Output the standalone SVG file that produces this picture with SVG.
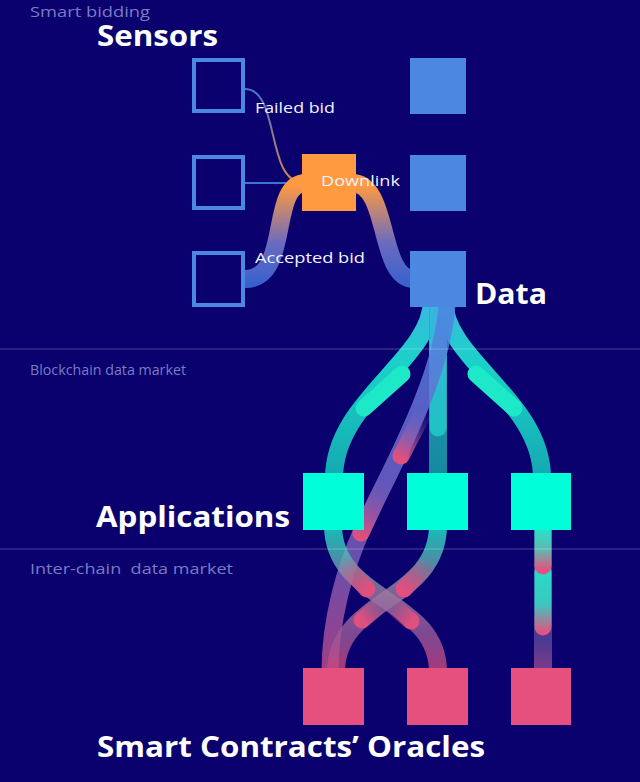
<svg xmlns="http://www.w3.org/2000/svg" width="640" height="782" viewBox="0 0 640 782">
<defs>
<style>
.sec{font-family:"Open Sans","Liberation Sans",sans-serif;font-size:15px;fill:#7b7bc4}
.big{font-family:"Open Sans","Liberation Sans",sans-serif;font-size:28px;font-weight:700;fill:#ffffff}
.lbl{font-family:"Open Sans","Liberation Sans",sans-serif;font-size:15px;fill:#f2f2ff}
.sensor{fill:none;stroke:#4a88e2;stroke-width:4}
.data{fill:#4a88e2}
.app{fill:#00ffd8}
.orc{fill:#e6507f}
.tube{fill:none;stroke-width:18;stroke-linecap:butt}
.pk{fill:none;stroke-width:17;stroke-linecap:round}
.divider{stroke:#ffffff;stroke-opacity:0.18;stroke-width:1.5}
</style>
<linearGradient id="gFail" gradientUnits="userSpaceOnUse" x1="245" y1="89" x2="302" y2="182"><stop offset="0" stop-color="#4a88e2"/><stop offset="1" stop-color="#ff9a40"/></linearGradient>
<linearGradient id="gAcc" gradientUnits="userSpaceOnUse" x1="0" y1="283" x2="0" y2="185"><stop offset="0" stop-color="#3a62cc"/><stop offset="0.4" stop-color="#6a6ac0"/><stop offset="1" stop-color="#ff9a40"/></linearGradient>
<linearGradient id="gDown" gradientUnits="userSpaceOnUse" x1="0" y1="185" x2="0" y2="283"><stop offset="0" stop-color="#ff9a40"/><stop offset="0.6" stop-color="#6a6ac0"/><stop offset="1" stop-color="#3a62cc"/></linearGradient>
<linearGradient id="gSide" gradientUnits="userSpaceOnUse" x1="0" y1="305" x2="0" y2="473"><stop offset="0" stop-color="#3ab8e0"/><stop offset="0.35" stop-color="#1ad2c8"/><stop offset="1" stop-color="#14aab2"/></linearGradient>
<linearGradient id="gMid" gradientUnits="userSpaceOnUse" x1="0" y1="305" x2="0" y2="473"><stop offset="0" stop-color="#2a9ec0"/><stop offset="1" stop-color="#15899e"/></linearGradient>
<linearGradient id="gMidPk" gradientUnits="userSpaceOnUse" x1="0" y1="305" x2="0" y2="432"><stop offset="0" stop-color="#3ab8e0"/><stop offset="1" stop-color="#20c8c8"/></linearGradient>
<linearGradient id="gPur" gradientUnits="userSpaceOnUse" x1="0" y1="305" x2="0" y2="668"><stop offset="0" stop-color="#4a86e2"/><stop offset="0.35" stop-color="#6a6cd0"/><stop offset="0.7" stop-color="#7a5cb8"/><stop offset="1" stop-color="#b84a8a"/></linearGradient>
<linearGradient id="gX" gradientUnits="userSpaceOnUse" x1="0" y1="530" x2="0" y2="668"><stop offset="0" stop-color="#1ee6c8"/><stop offset="0.45" stop-color="#9a7aa0"/><stop offset="0.75" stop-color="#9a5a9c"/><stop offset="1" stop-color="#c8487e"/></linearGradient>
<linearGradient id="gR" gradientUnits="userSpaceOnUse" x1="0" y1="530" x2="0" y2="668"><stop offset="0" stop-color="#3a3a96"/><stop offset="0.8" stop-color="#4a3a92"/><stop offset="1" stop-color="#7a3a88"/></linearGradient>
<linearGradient id="gR1" gradientUnits="userSpaceOnUse" x1="0" y1="530" x2="0" y2="570"><stop offset="0" stop-color="#2ae0c8"/><stop offset="0.5" stop-color="#60b8b0"/><stop offset="1" stop-color="#e6507f"/></linearGradient>
<linearGradient id="gR2" gradientUnits="userSpaceOnUse" x1="0" y1="575" x2="0" y2="633"><stop offset="0" stop-color="#2ad8c8"/><stop offset="0.5" stop-color="#3ac8c0"/><stop offset="1" stop-color="#e6507f"/></linearGradient>
<linearGradient id="gPkP1" gradientUnits="userSpaceOnUse" x1="425" y1="410" x2="401" y2="458"><stop offset="0" stop-color="#6a6cd0" stop-opacity="0"/><stop offset="1" stop-color="#e0507e"/></linearGradient>
<linearGradient id="gPkP2" gradientUnits="userSpaceOnUse" x1="385" y1="480" x2="360" y2="536"><stop offset="0" stop-color="#7a5cb8" stop-opacity="0"/><stop offset="1" stop-color="#e0507e"/></linearGradient>
<linearGradient id="gPkA" gradientUnits="userSpaceOnUse" x1="340" y1="560" x2="367" y2="590"><stop offset="0" stop-color="#e0507e" stop-opacity="0"/><stop offset="1" stop-color="#e0507e"/></linearGradient>
<linearGradient id="gPkB" gradientUnits="userSpaceOnUse" x1="430" y1="560" x2="404" y2="590"><stop offset="0" stop-color="#e0507e" stop-opacity="0"/><stop offset="1" stop-color="#e0507e"/></linearGradient>
<linearGradient id="gPkA2" gradientUnits="userSpaceOnUse" x1="392" y1="605" x2="411" y2="622"><stop offset="0" stop-color="#e0507e" stop-opacity="0"/><stop offset="1" stop-color="#e0507e"/></linearGradient>
<linearGradient id="gPkB2" gradientUnits="userSpaceOnUse" x1="380" y1="605" x2="362" y2="620"><stop offset="0" stop-color="#e0507e" stop-opacity="0"/><stop offset="1" stop-color="#e0507e"/></linearGradient>
</defs>
<rect width="640" height="782" fill="#0a016e"/>

<g id="section-labels">
<text class="sec" x="30" y="17" textLength="120" lengthAdjust="spacingAndGlyphs">Smart bidding</text>
<text class="sec" x="30" y="375" textLength="156" lengthAdjust="spacingAndGlyphs">Blockchain data market</text>
<text class="sec" x="30" y="574" textLength="203" lengthAdjust="spacingAndGlyphs" xml:space="preserve">Inter-chain  data market</text>
</g>

<g id="connectors">
<path d="M245,89 C280,89 266,182 302,182" fill="none" stroke="url(#gFail)" stroke-width="2" stroke-opacity="0.85"/>
<path d="M245,183 L302,183" fill="none" stroke="#4a88e2" stroke-width="2" stroke-opacity="0.85"/>
<path class="tube" d="M245,279 C292,279 268,183 306,183" stroke="url(#gAcc)"/>
<path class="tube" d="M352,183 C390,183 378,279 414,279" stroke="url(#gDown)"/>

<path class="tube" d="M432,300 C432,360 334,400 334,478" stroke="url(#gSide)"/>
<path class="tube" d="M444,300 C444,360 542,400 542,478" stroke="url(#gSide)"/>
<path class="tube" d="M438,300 L438,478" stroke="url(#gMid)" stroke-width="16"/>
<path class="pk" d="M438,305 L438,428" stroke="url(#gMidPk)" stroke-width="16" stroke-opacity="0.9"/>
<path class="pk" d="M402,374 L364,408" stroke="#1de8c8"/>
<path class="pk" d="M476,374 L514,408" stroke="#1de8c8"/>

<path d="M447,305 C442,380 390,470 362,530 C345,568 330,620 330,672" fill="none" stroke="url(#gPur)" stroke-width="17" stroke-opacity="0.85"/>
<path class="pk" d="M425,410 L401,456" stroke="url(#gPkP1)" stroke-width="16"/>
<path class="pk" d="M385,482 L361,533" stroke="url(#gPkP2)" stroke-width="16"/>

<path class="tube" d="M333,525 C333,602 438,598 438,672" stroke="url(#gX)" stroke-opacity="0.8"/>
<path class="tube" d="M438,525 C438,602 336,598 336,672" stroke="url(#gX)" stroke-opacity="0.8"/>
<path class="pk" d="M345,565 L367,589" stroke="url(#gPkA)"/>
<path class="pk" d="M427,565 L404,589" stroke="url(#gPkB)"/>
<path class="pk" d="M394,607 L411,621" stroke="url(#gPkA2)"/>
<path class="pk" d="M378,607 L362,620" stroke="url(#gPkB2)"/>

<path class="tube" d="M543,525 L543,672" stroke="url(#gR)"/>
<path class="pk" d="M543,572 L543,627" stroke="url(#gR2)" stroke-width="18"/>
<path class="pk" d="M543,530 L543,566" stroke="url(#gR1)" stroke-width="18"/>
</g>

<line class="divider" x1="0" y1="349" x2="640" y2="349"/>
<line class="divider" x1="0" y1="549" x2="640" y2="549"/>

<g id="sensor-1"><rect class="sensor" x="194" y="60" width="49" height="51"/></g>
<g id="sensor-2"><rect class="sensor" x="194" y="157" width="49" height="51"/></g>
<g id="sensor-3"><rect class="sensor" x="194" y="253" width="49" height="52"/></g>
<g id="data-1"><rect class="data" x="410" y="58" width="56" height="56"/></g>
<g id="data-2"><rect class="data" x="410" y="155" width="56" height="56"/></g>
<g id="data-3"><rect class="data" x="410" y="251" width="56" height="56"/></g>
<g id="downlink"><rect x="302" y="154" width="54" height="57" fill="#ff9a40"/><text class="lbl" x="321" y="186" textLength="79" lengthAdjust="spacingAndGlyphs">Downlink</text></g>
<g id="lbl-failed"><text class="lbl" x="255" y="113" textLength="80" lengthAdjust="spacingAndGlyphs">Failed bid</text></g>
<g id="lbl-accepted"><text class="lbl" x="255" y="263" textLength="110" lengthAdjust="spacingAndGlyphs">Accepted bid</text></g>

<g id="app-1"><rect class="app" x="303" y="473" width="61" height="57"/></g>
<g id="app-2"><rect class="app" x="407" y="473" width="61" height="57"/></g>
<g id="app-3"><rect class="app" x="511" y="473" width="60" height="57"/></g>
<g id="oracle-1"><rect class="orc" x="303" y="668" width="61" height="57"/></g>
<g id="oracle-2"><rect class="orc" x="407" y="668" width="61" height="57"/></g>
<g id="oracle-3"><rect class="orc" x="511" y="668" width="60" height="57"/></g>

<g id="titles">
<text class="big" x="97" y="46" textLength="121" lengthAdjust="spacingAndGlyphs">Sensors</text>
<text class="big" x="475" y="304" textLength="72" lengthAdjust="spacingAndGlyphs">Data</text>
<text class="big" x="96" y="527" textLength="194" lengthAdjust="spacingAndGlyphs">Applications</text>
<text class="big" x="97" y="757" textLength="388" lengthAdjust="spacingAndGlyphs">Smart Contracts’ Oracles</text>
</g>
</svg>
